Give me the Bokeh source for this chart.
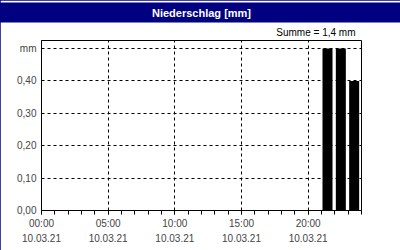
from bokeh.plotting import figure
from bokeh.models import (FixedTicker, LinearAxis, Title, Range1d, ColumnDataSource)
from bokeh.embed import file_html
from bokeh.resources import INLINE

# ---- data ----
hours = [21, 22, 23]
precip = [0.5, 0.5, 0.4]
y_ticks = [0.0, 0.1, 0.2, 0.3, 0.4, 0.5]
y_labels = ["0,00", "0,10", "0,20", "0,30", "0,40", "mm"]
x_ticks = [0, 5, 10, 15, 20]
x_time_labels = ["00:00", "05:00", "10:00", "15:00", "20:00"]
x_date_labels = ["10.03.21", "10.03.21", "10.03.21", "10.03.21", "10.03.21"]
title_text = "Niederschlag [mm]"
unit = "mm"

FONT = "Liberation Sans"
NAVY = "#000080"

src = ColumnDataSource(dict(x=[h + 0.45 for h in hours], top=precip))

p = figure(width=400, height=250, output_backend="svg", toolbar_location=None,
           title_location=None,
           x_range=Range1d(0, 24), y_range=Range1d(0, 0.525),
           min_border_left=41, min_border_right=39, min_border_top=0,
           min_border_bottom=40, background_fill_color="white",
           border_fill_color="white", outline_line_color="black",
           styles={"outline": "2px solid #000080", "outline-offset": "-2px"})

p.vbar(x="x", top="top", bottom=0, width=0.75, source=src,
       fill_color="black", line_color=None)

# x axis (times)
xa = p.xaxis[0]
xa.ticker = FixedTicker(ticks=x_ticks, minor_ticks=list(range(25)))
xa.major_label_overrides = dict(zip(x_ticks, x_time_labels))
xa.major_tick_in = 0
xa.major_tick_out = 4
xa.minor_tick_in = 0
xa.minor_tick_out = 4
xa.major_label_standoff = 3
xa.major_label_text_font = FONT
xa.major_label_text_font_size = "10px"
xa.axis_line_color = "black"

# second row of x labels (dates)
xa2 = LinearAxis(ticker=FixedTicker(ticks=x_ticks),
                 major_label_overrides=dict(zip(x_ticks, x_date_labels)),
                 major_tick_in=0, major_tick_out=0, minor_tick_in=0, minor_tick_out=0,
                 axis_line_color=None, major_label_standoff=2,
                 major_label_text_font=FONT, major_label_text_font_size="10px")
p.add_layout(xa2, "below")

# y axis
ya = p.yaxis[0]
ya.ticker = FixedTicker(ticks=y_ticks)
ya.major_label_overrides = dict(zip(y_ticks, y_labels))
ya.major_tick_in = 0
ya.major_tick_out = 0
ya.minor_tick_in = 0
ya.minor_tick_out = 0
ya.major_label_standoff = 5
ya.major_label_text_font = FONT
ya.major_label_text_font_size = "10px"

for g in (p.xgrid[0], p.ygrid[0]):
    g.grid_line_color = "black"
    g.grid_line_dash = "3 3"
    g.grid_line_width = 1

total = sum(precip)
sum_text = ("Summe = %.1f %s" % (total, unit)).replace(".", ",")
p.add_layout(Title(text=sum_text, align="right", standoff=5, offset=6,
                   text_font=FONT, text_font_size="10px", text_font_style="normal",
                   text_color="black"), "above")
p.add_layout(Title(text=title_text, align="center", standoff=0,
                   text_font=FONT, text_font_size="11px", text_font_style="bold",
                   text_color="white", background_fill_color=NAVY,
                   padding=(155, 155, 4, 4)), "above")

open("out.html", "w").write(file_html(p, INLINE))
